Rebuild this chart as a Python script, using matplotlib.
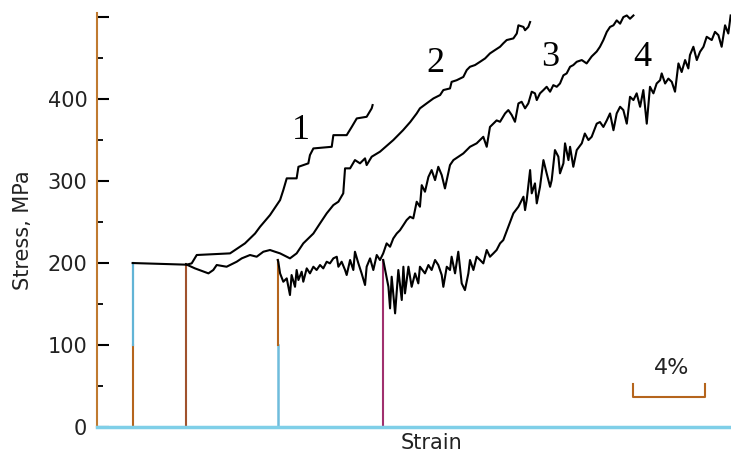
import numpy as np
import matplotlib
matplotlib.use("Agg")
import matplotlib.pyplot as plt

# loading (elastic) segments: strain where each curve starts, stress at the top
load_x = [1.98, 4.94, 10.04, 15.9]
load_top = [200, 198.5, 203.7, 203.7]

# curve 1
c1_x = [1.98, 3.5, 4.98, 5.26, 5.54, 7.39, 7.67, 8.22, 8.78, 9.06, 9.61, 10.17,
        10.35, 10.54, 11.09, 11.19, 11.74, 11.83, 12.02, 13.04, 13.13, 13.87,
        14.15, 14.43, 14.98, 15.26, 15.31]
c1_y = [200, 199, 198, 199.6, 209.8, 211.8, 215.9, 224, 236, 244.3, 258.5, 276.8,
        289, 303.3, 303.3, 317.4, 321.6, 331.7, 339.8, 341.8, 356, 356,
        366, 376.4, 378.4, 388.7, 392.7]

# curve 2
c2_x = [4.94, 5.44, 6.19, 6.46, 6.65, 7.2, 7.76, 8.04, 8.5, 8.87, 9.24, 9.61,
        9.89, 10.17, 10.54, 10.72, 11.09, 11.46, 12.02, 12.39, 12.76, 13.13,
        13.41, 13.68, 13.78, 14.06, 14.33, 14.61, 14.89, 14.98, 15.26, 15.72,
        16.46, 17.0, 17.4, 17.76, 17.94, 18.31, 18.69, 19.06, 19.24, 19.61,
        19.7, 19.98, 20.35, 20.54, 20.72, 21.0, 21.28, 21.56, 21.83, 22.11,
        22.39, 22.57, 22.76, 23.13, 23.32, 23.41, 23.69, 23.78, 23.96, 24.06]
c2_y = [198.5, 193.5, 187.4, 191.5, 197.6, 195.5, 201.6, 205.7, 209.8, 207.7, 213.8, 215.9,
        213.8, 211.8, 207.7, 205.7, 211.8, 224, 236, 248.4, 260.6, 270.7,
        274.8, 285, 315.5, 315.5, 325.6, 321.6, 327.7, 319.5, 329.7, 335.8,
        350, 362, 372, 382.5, 388.7, 394.7, 400.8, 404.9, 411, 413,
        421, 423, 427, 435.4, 439.4, 441.5, 445.5, 449.6, 455.7, 459.8,
        463.8, 468, 472, 474, 480, 490, 488, 484, 488, 494]

# curve 3
c3_x = [10.04, 10.07, 10.17, 10.35, 10.54, 10.72, 10.81, 11.0, 11.09, 11.19, 11.37,
        11.46, 11.65, 11.83, 12.02, 12.2, 12.39, 12.57, 12.76, 12.94, 13.13,
        13.32, 13.41, 13.59, 13.78, 13.87, 14.06, 14.24, 14.33, 14.52, 14.7,
        14.89, 14.98, 15.17, 15.35, 15.54, 15.72, 15.9, 16.09, 16.28, 16.46,
        16.65, 16.83, 17.02, 17.2, 17.39, 17.57, 17.76, 17.94, 18.04, 18.22,
        18.41, 18.59, 18.78, 18.96, 19.15, 19.33, 19.61, 19.8, 20.35, 20.72,
        21.09, 21.46, 21.65, 21.83, 22.2, 22.39, 22.67, 22.85, 23.04, 23.22,
        23.41, 23.59, 23.78, 23.96, 24.15, 24.33, 24.43, 24.61, 24.8, 24.98,
        25.17, 25.35, 25.54, 25.72, 25.91, 26.09, 26.28, 26.46, 26.65, 26.93,
        27.2, 27.48, 27.76, 27.94, 28.13, 28.32, 28.5, 28.69, 28.87, 29.06,
        29.24, 29.43, 29.61, 29.8]
c3_y = [203.7, 201.6, 187.4, 177.2, 181.3, 161, 185.4, 171, 191.5, 179.3, 189.4,
        177.2, 193.5, 187.4, 195.5, 191.5, 197.6, 193.5, 201.6, 199.6, 205.7,
        207.7, 195.5, 201.6, 191.5, 185.4, 203.7, 191.5, 213.8, 199.6, 187.4,
        173.2, 195.5, 205.7, 191.5, 209.8, 203.7, 211.8, 224, 219.9, 230,
        236, 240, 246.3, 252.4, 256.5, 254.5, 274.8, 268.7, 295, 287,
        305, 313.4, 301.2, 317.4, 307.3, 291, 319.5, 325.6, 333.7, 341.8,
        346, 354, 341.8, 366, 374, 372.3, 382.5, 386.6, 380.5, 372.3,
        394.7, 396.7, 388.7, 394.7, 409, 407, 398.8, 407, 411, 415,
        409, 417, 415, 419, 429, 431.3, 439.4, 441.5, 445.5, 447.6,
        443.5, 452, 458, 463.8, 472, 482, 488, 490, 496, 492,
        500, 502, 498, 502]

# curve 4
c4_x = [15.9, 16.19, 16.28, 16.37, 16.56, 16.74, 16.93, 17.02, 17.11, 17.3, 17.48,
        17.67, 17.85, 17.94, 18.22, 18.41, 18.59, 18.78, 18.96, 19.15, 19.24,
        19.43, 19.61, 19.7, 19.89, 20.07, 20.26, 20.44, 20.63, 20.72, 20.91,
        21.09, 21.28, 21.46, 21.65, 21.83, 22.02, 22.2, 22.39, 22.57, 22.85,
        23.13, 23.41, 23.69, 23.78, 23.87, 24.06, 24.15, 24.33, 24.43, 24.61,
        24.8, 24.98, 25.17, 25.26, 25.44, 25.63, 25.72, 25.91, 26.0, 26.19,
        26.28, 26.46, 26.65, 26.93, 27.1, 27.3, 27.48, 27.76, 27.94, 28.13,
        28.32, 28.5, 28.69, 28.87, 29.06, 29.24, 29.43, 29.61, 29.8, 29.98,
        30.17, 30.35, 30.54, 30.72, 30.91, 31.09, 31.28, 31.37, 31.56, 31.74,
        31.93, 32.11, 32.3, 32.48, 32.67, 32.85, 32.94, 33.13, 33.32, 33.5,
        33.69, 33.87, 34.15, 34.33, 34.52, 34.7, 34.89, 35.07, 35.2]
c4_y = [203.7, 171, 144.7, 183.3, 138.6, 191.5, 154.9, 195.5, 163, 195.5, 171,
        187.4, 175.2, 195.5, 187.4, 197.6, 191.5, 203.7, 197.6, 185.4, 171,
        195.5, 191.5, 207.7, 187.4, 213.8, 175.2, 167, 187.4, 203.7, 191.5,
        207.7, 203.7, 199.6, 215.9, 207.7, 211.8, 215.9, 224, 228, 244.3,
        260.6, 268.7, 280.9, 264.6, 276.8, 313.4, 285, 297.2, 272.8, 293,
        325.6, 309.4, 293, 301.2, 337.8, 329.7, 309.4, 321.6, 346, 325.6,
        341.8, 317.4, 337.8, 346, 358, 350, 354, 370, 372, 366,
        374, 382.5, 362, 382.5, 390.6, 386.6, 370, 402.8, 398.8, 407,
        390.6, 411, 370, 415, 407, 419, 423, 431.3, 419, 425,
        421, 409, 443.5, 433, 447.6, 437.4, 453.7, 463.8, 447.6, 457.7,
        463.8, 476, 472, 482, 478, 463.8, 490, 480, 502]

curve_labels = ["1", "2", "3", "4"]
label_x = [11.33, 18.78, 25.17, 30.28]
label_y = [361.6, 444, 451, 451]

fig = plt.figure(figsize=(7.31, 4.53), dpi=100)
ax = fig.add_axes([97/731, 26/453, 634/731, 414/453])

# loading lines, coloured like the scan
ax.plot([load_x[0]] * 2, [0, 100], color="#b5651d", lw=1.5)
ax.plot([load_x[0]] * 2, [100, load_top[0]], color="#62b4d6", lw=1.6)
ax.plot([load_x[1]] * 2, [0, load_top[1]], color="#a0522d", lw=1.5)
ax.plot([load_x[2]] * 2, [0, 100], color="#6fbcdc", lw=1.8)
ax.plot([load_x[2]] * 2, [100, load_top[2]], color="#b5651d", lw=1.5)
ax.plot([load_x[3]] * 2, [0, load_top[3]], color="#a0306e", lw=1.5)

for xs, ys in [(c1_x, c1_y), (c2_x, c2_y)]:
    ax.plot(xs, ys, color="black", lw=1.5)
for xs, ys in [(c3_x, c3_y), (c4_x, c4_y)]:
    ax.plot(xs, ys, color="black", lw=1.5)

for t, x, y in zip(curve_labels, label_x, label_y):
    ax.text(x, y, t, fontsize=26, family="Liberation Serif",
            ha="center", va="center", color="black")

# 4% scale bar
ax.plot([29.78, 29.78, 33.78, 33.78], [53, 36, 36, 53], color="#b5651d", lw=1.5)
ax.text(31.9, 72, "4%", fontsize=16, ha="center", va="center", color="#222222")

ax.set_xlim(0, 35.22)
ax.set_ylim(0, 505)
ax.set_xticks([])
ax.set_yticks([0, 100, 200, 300, 400, 500])
ax.set_yticklabels(["0", "100", "200", "300", "400", ""])
ax.set_yticks(np.arange(50, 500, 100), minor=True)
ax.tick_params(axis="y", which="major", direction="in", length=8.5, width=1.5,
               labelsize=15, pad=7, labelcolor="#222222")
ax.tick_params(axis="y", which="minor", direction="in", length=4.3, width=1.3)

for s in ["top", "right"]:
    ax.spines[s].set_visible(False)
ax.spines["left"].set_color("#c07a30")
ax.spines["left"].set_linewidth(1.5)
ax.spines["bottom"].set_color("#7fcfe8")
ax.spines["bottom"].set_linewidth(2.5)

fig.text(23/731, 1 - 230/453, "Stress, MPa", rotation=90, fontsize=15,
         ha="center", va="center", color="#222222")
fig.text(432/731, 1 - 443/453, "Strain", fontsize=15,
         ha="center", va="center", color="#222222")

fig.savefig("out.png", dpi=100)
